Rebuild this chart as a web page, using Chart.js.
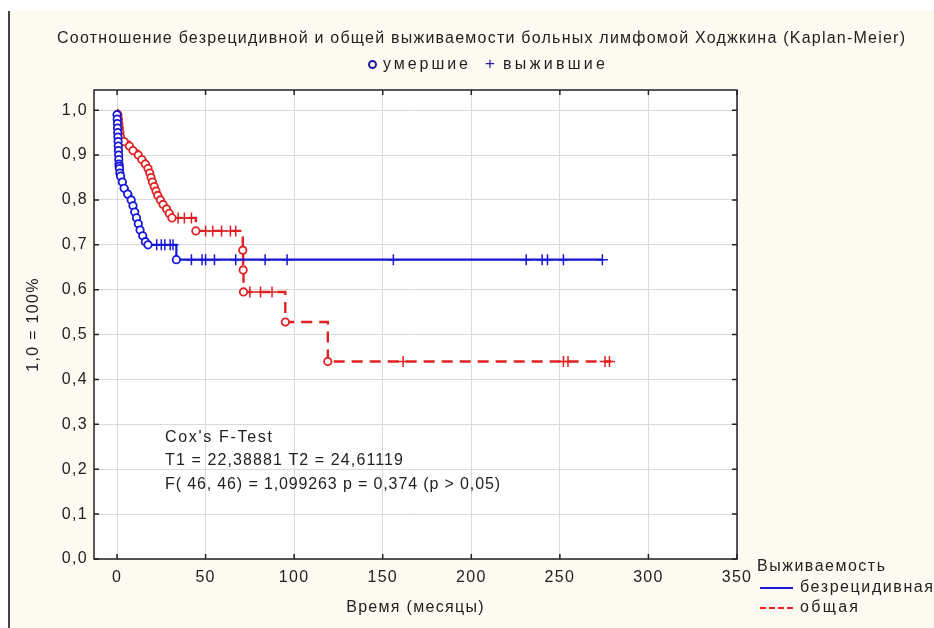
<!DOCTYPE html>
<html><head><meta charset="utf-8">
<script src="https://cdn.jsdelivr.net/npm/chart.js@4.4.1/dist/chart.umd.min.js"></script>
<style>
body{margin:0;background:#fff;}
#wrap{position:relative;width:934px;height:628px;overflow:hidden;font-family:"Liberation Sans",Arial,sans-serif;color:#222;}
#bg{position:absolute;left:8px;top:11px;right:0;bottom:0;background:#fcfaf1;border-left:2px solid #444;}
canvas{position:absolute;left:0;top:0;}
.t{position:absolute;white-space:nowrap;}
</style></head>
<body><div id="wrap"><div id="bg"></div><canvas id="c" width="934" height="628"></canvas></div>
<script>
// ---- data ----
const xTicks = [0, 50, 100, 150, 200, 250, 300, 350];
const xTickLabels = ['0', '50', '100', '150', '200', '250', '300', '350'];
const yTicks = [0, 0.1, 0.2, 0.3, 0.4, 0.5, 0.6, 0.7, 0.8, 0.9, 1.0];
const yTickLabels = ['0,0', '0,1', '0,2', '0,3', '0,4', '0,5', '0,6', '0,7', '0,8', '0,9', '1,0'];

// relapse-free survival (blue): event times / survival after event
const rfsEventTimes = [0, 0.1, 0.2, 0.3, 0.4, 0.5, 0.6, 0.7, 0.8, 0.9, 1.0, 1.1, 1.2, 1.4, 1.6, 2.0, 3.0, 4.0, 6.0, 8.0, 9.0, 10.0, 11.0, 12.0, 13.0, 14.5, 16.0, 17.5, 33.5];
const rfsEventSurv  = [0.99, 0.98, 0.97, 0.96, 0.95, 0.94, 0.93, 0.92, 0.91, 0.90, 0.89, 0.88, 0.875, 0.87, 0.86, 0.853, 0.84, 0.826, 0.813, 0.80, 0.787, 0.773, 0.76, 0.747, 0.733, 0.72, 0.707, 0.70, 0.667];
const rfsCensorTimes = [22.4, 25, 27, 30, 31.6, 42, 48, 50, 55, 67, 83.6, 96, 156, 231, 240, 243, 252, 274];
const rfsEnd = 274;

// overall survival (red)
const osEventTimes = [0.5, 0.8, 1.0, 1.3, 1.6, 2.0, 4, 7, 9, 12, 14, 16, 17.5, 18.5, 19.2, 20, 21, 22, 23, 24.5, 26, 28, 29.5, 31, 44.5, 71, 71.2, 71.4, 95, 119];
const osEventSurv  = [0.99, 0.98, 0.97, 0.96, 0.95, 0.94, 0.93, 0.92, 0.91, 0.90, 0.89, 0.88, 0.87, 0.86, 0.85, 0.84, 0.83, 0.82, 0.81, 0.80, 0.79, 0.78, 0.77, 0.76, 0.731, 0.688, 0.644, 0.595, 0.528, 0.44];
const osCensorTimes = [34.5, 38, 42, 50, 54, 59, 64, 67, 75, 81, 87.5, 161.5, 252, 254.6, 275.5, 278];
const osEnd = 279;

// ---- helpers ----
function survAt(times, surv, t) {
  let s = 1;
  for (let i = 0; i < times.length; i++) if (times[i] <= t) s = surv[i];
  return s;
}
function stepLine(times, surv, end) {
  const pts = [{x: 0, y: 1}];
  times.forEach((t, i) => pts.push({x: t, y: surv[i]}));
  pts.push({x: end, y: surv[surv.length - 1]});
  return pts;
}
const evPts = (times, surv) => times.map((t, i) => ({x: t, y: surv[i]}));
const cenPts = (ct, times, surv) => ct.map(t => ({x: t, y: survAt(times, surv, t)}));

const BLUE = '#1616d6', RED = '#e02222';
const FONT = '"Liberation Sans",Arial,sans-serif';

const framePlugin = {
  id: 'frame',
  beforeDraw(chart) {
    const {ctx, chartArea: a} = chart;
    ctx.letterSpacing = '1.3px';
    ctx.save(); ctx.fillStyle = '#fff';
    ctx.fillRect(a.left, a.top, a.right - a.left, a.bottom - a.top);
    ctx.restore();
  },
  afterDraw(chart) {
    const {ctx, chartArea: a, scales: {x, y}} = chart;
    ctx.save();
    ctx.strokeStyle = '#222'; ctx.lineWidth = 1.5;
    ctx.strokeRect(a.left, a.top, a.right - a.left, a.bottom - a.top);
    ctx.beginPath();
    xTicks.forEach(v => {
      const p = x.getPixelForValue(v);
      ctx.moveTo(p, a.bottom); ctx.lineTo(p, a.bottom - 5);
      ctx.moveTo(p, a.top); ctx.lineTo(p, a.top + 5);
    });
    yTicks.forEach(v => {
      const p = y.getPixelForValue(v);
      ctx.moveTo(a.left, p); ctx.lineTo(a.left + 5, p);
      ctx.moveTo(a.right, p); ctx.lineTo(a.right - 5, p);
    });
    ctx.stroke();
    ctx.restore();
  }
};

new Chart(document.getElementById('c'), {
  type: 'scatter',
  data: {
    datasets: [
      {label: 'rfs-dead', data: evPts(rfsEventTimes, rfsEventSurv), pointStyle: 'circle', radius: 3.7, borderWidth: 1.8, borderColor: BLUE, backgroundColor: '#fff', order: 1},
      {label: 'rfs-cens', data: cenPts(rfsCensorTimes, rfsEventTimes, rfsEventSurv), pointStyle: 'cross', radius: 5.5, borderWidth: 1.5, borderColor: BLUE, backgroundColor: BLUE, order: 1},
      {label: 'os-dead', data: evPts(osEventTimes, osEventSurv), pointStyle: 'circle', radius: 3.7, borderWidth: 1.8, borderColor: RED, backgroundColor: '#fff', order: 1},
      {label: 'os-cens', data: cenPts(osCensorTimes, osEventTimes, osEventSurv), pointStyle: 'cross', radius: 5.5, borderWidth: 1.5, borderColor: RED, backgroundColor: RED, order: 1},
      {label: 'безрецидивная', data: stepLine(rfsEventTimes, rfsEventSurv, rfsEnd), showLine: true, stepped: 'before', borderColor: BLUE, borderWidth: 2.2, pointRadius: 0, fill: false, order: 2},
      {label: 'общая', data: stepLine(osEventTimes, osEventSurv, osEnd), showLine: true, stepped: 'before', borderColor: RED, borderWidth: 2.4, borderDash: [11, 7], pointRadius: 0, fill: false, order: 3}
    ]
  },
  options: {
    responsive: false, animation: false,
    layout: {padding: {left: 0, right: 197, top: 90, bottom: 9}},
    plugins: {legend: {display: false}, tooltip: {enabled: false}},
    scales: {
      x: {
        type: 'linear', min: -13, max: 350,
        afterBuildTicks: s => { s.ticks = xTicks.map(v => ({value: v})); },
        afterFit: s => { s.height = 60; },
        ticks: {callback: (v, i) => xTickLabels[i], color: '#222', font: {family: FONT, size: 16}, padding: 9, maxRotation: 0},
        grid: {color: '#dadada', lineWidth: 1, drawTicks: false},
        border: {display: false},
        title: {display: true, text: 'Время (месяцы)', color: '#222', font: {family: FONT, size: 16}, padding: {top: 0, bottom: 2}}
      },
      y: {
        type: 'linear', min: 0, max: 1.045,
        afterBuildTicks: s => { s.ticks = yTicks.map(v => ({value: v})); },
        afterFit: s => { s.width = 94; },
        ticks: {callback: (v, i) => yTickLabels[i], color: '#222', font: {family: FONT, size: 16}, padding: 6},
        grid: {color: '#dadada', lineWidth: 1, drawTicks: false},
        border: {display: false},
        title: {display: true, text: '1,0 = 100%', color: '#222', font: {family: FONT, size: 16}, padding: {top: 24, bottom: 0}}
      }
    }
  },
  plugins: [framePlugin]
});

// ---- HTML texts ----
const wrap = document.getElementById('wrap');
function place(html, left, cy, width, size) {
  const d = document.createElement('div');
  d.className = 't';
  d.style.fontSize = size + 'px';
  d.style.lineHeight = (size + 4) + 'px';
  d.style.left = left + 'px';
  d.style.top = (cy - (size + 4) / 2) + 'px';
  d.innerHTML = html;
  wrap.appendChild(d);
  if (width) {
    const w = d.getBoundingClientRect().width;
    const n = d.textContent.length;
    if (n > 1) d.style.letterSpacing = ((width - w) / (n - 1)) + 'px';
  }
  return d;
}
place('Соотношение безрецидивной и общей выживаемости больных лимфомой Ходжкина (Kaplan-Meier)', 57, 38, 848, 16);
// top legend
const mk = document.createElement('div');
mk.style.cssText = 'position:absolute;left:368px;top:60px;width:5px;height:5px;border:2px solid #1c1c9c;border-radius:50%;';
wrap.appendChild(mk);
place('умершие', 383, 64, 85, 16);
place('<span style="color:#1c1c9c">+</span>', 485, 63, 0, 17);
place('выжившие', 503, 64, 102, 16);
// Cox test
place("Cox's F-Test", 165, 437, 107, 16);
place('T1 = 22,38881 T2 = 24,61119', 165, 460, 238, 16);
place('F( 46, 46) = 1,099263 p = 0,374 (p &gt; 0,05)', 165, 484, 335, 16);
// bottom-right legend
place('Выживаемость', 757, 566, 128, 16);
const l1 = document.createElement('div');
l1.style.cssText = 'position:absolute;left:760px;top:587px;width:33px;height:0;border-top:2px solid ' + BLUE + ';';
wrap.appendChild(l1);
place('безрецидивная', 800, 587, 133, 16);
const l2 = document.createElement('div');
l2.style.cssText = 'position:absolute;left:760px;top:607px;width:33px;height:0;border-top:2px dashed ' + RED + ';';
wrap.appendChild(l2);
place('общая', 800, 607, 58, 16);
</script></body></html>
